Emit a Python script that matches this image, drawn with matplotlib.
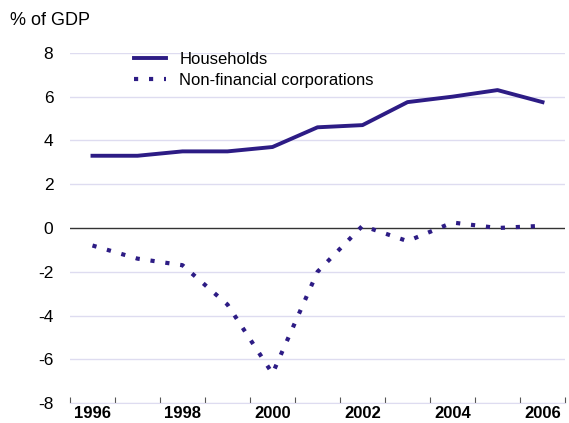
import matplotlib
matplotlib.use('Agg')
import matplotlib.pyplot as plt

plt.rcParams['font.family'] = ['Liberation Sans', 'DejaVu Sans']

years = [1996, 1997, 1998, 1999, 2000, 2001, 2002, 2003, 2004, 2005, 2006]
households = [3.3, 3.3, 3.5, 3.5, 3.7, 4.6, 4.7, 5.75, 6.0, 6.3, 5.75]
corporations = [-0.8, -1.4, -1.7, -3.5, -6.65, -2.0, 0.1, -0.6, 0.25, 0.0, 0.1]

navy = '#2d1c85'
grid = '#dedcf0'

fig = plt.figure(figsize=(5.69, 4.23), dpi=100)
ax = fig.add_axes([0.123, 0.047, 0.87, 0.828])

for y in range(-8, 9, 2):
    if y != 0:
        ax.axhline(y, color=grid, lw=1.0, zorder=0)
ax.axhline(0, color='#333333', lw=1.0, zorder=1)

ax.plot(years, households, color=navy, lw=2.8, label='Households', zorder=3)
ax.plot(years, corporations, color=navy, lw=3.0, linestyle=(0, (1, 2.6)),
        label='Non-financial corporations', zorder=3)

ax.set_xlim(1995.5, 2006.5)
ax.set_ylim(-8, 8)
ax.set_yticks(range(-8, 9, 2))
ax.set_yticklabels([str(v) for v in range(-8, 9, 2)], fontsize=12.5)
ax.tick_params(axis='y', length=0, pad=12)

# year-boundary ticks, labels every other year
ax.set_xticks([y + 0.5 for y in range(1995, 2007)])
ax.set_xticklabels([])
ax.set_xticks(years[::2], minor=True)
ax.set_xticklabels([str(y) for y in years[::2]], minor=True, fontsize=12, fontweight='bold')
ax.tick_params(axis='x', which='major', direction='in', length=4, color='#555555')
ax.tick_params(axis='x', which='minor', length=0, pad=2)

for s in ['top', 'right', 'left']:
    ax.spines[s].set_visible(False)
ax.spines['bottom'].set_color(grid)

fig.text(0.018, 0.94, '% of GDP', fontsize=13)

ax.legend(loc='upper left', bbox_to_anchor=(0.10, 1.045), frameon=False, fontsize=12,
          handlelength=1.9, handletextpad=0.8, labelspacing=0.35)

fig.savefig('out.png', dpi=100)
